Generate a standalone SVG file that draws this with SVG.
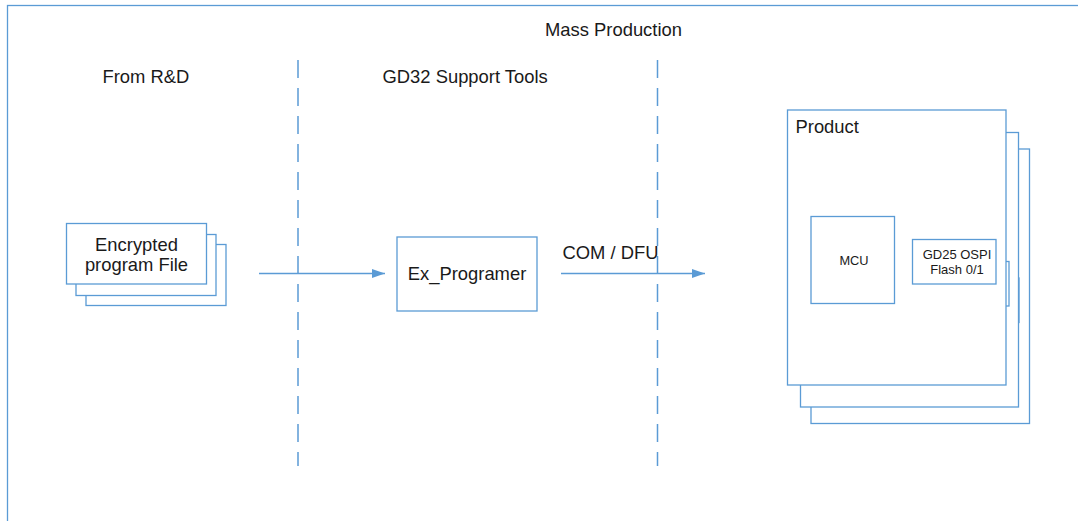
<svg xmlns="http://www.w3.org/2000/svg" width="1078" height="521" viewBox="0 0 1078 521">
  <style>
    .box { fill: #ffffff; stroke: #5b9bd5; stroke-width: 1.3; }
    .frame { fill: none; stroke: #5b9bd5; stroke-width: 1.3; }
    .lane { stroke: #5b9bd5; stroke-width: 1.5; stroke-dasharray: 18 10; fill: none; }
    .conn { stroke: #5b9bd5; stroke-width: 1.3; fill: none; }
    text { font-family: "Liberation Sans", Arial, sans-serif; fill: #1a1a1a; }
    .t18 { font-size: 18.4px; }
    .t13 { font-size: 13px; }
    .mid { text-anchor: middle; }
  </style>
  <defs>
    <marker id="arrow" viewBox="0 0 13 9" refX="13" refY="4.5" markerWidth="13" markerHeight="9" markerUnits="userSpaceOnUse" orient="auto">
      <path d="M0,0 L13,4.5 L0,9 Z" fill="#5b9bd5"/>
    </marker>
  </defs>

  <rect width="1078" height="521" fill="#ffffff"/>

  <!-- page frame, running past the right and bottom edges -->
  <rect class="frame" x="7.5" y="5.5" width="1100" height="560"/>

  <!-- lane titles -->
  <text class="t18" x="545" y="36">Mass Production</text>
  <text class="t18" x="102.5" y="83">From R&amp;D</text>
  <text class="t18" x="382.5" y="82.5">GD32 Support Tools</text>

  <!-- lane separators -->
  <g id="lanes">
    <line class="lane" x1="298" y1="60" x2="298" y2="466"/>
    <line class="lane" x1="657.5" y1="60" x2="657.5" y2="466"/>
  </g>

  <!-- stacked document: encrypted program file -->
  <g id="program-file">
    <rect class="box" x="86" y="244.5" width="140" height="61"/>
    <rect class="box" x="76" y="234.5" width="140" height="61"/>
    <rect class="box" x="66.5" y="223.5" width="140" height="60.5"/>
    <text class="t18 mid" x="136.5" y="250.5">Encrypted</text>
    <text class="t18 mid" x="136.5" y="270.5">program File</text>
  </g>

  <!-- programmer tool -->
  <g id="ex-programer">
    <rect class="box" x="397" y="237" width="140" height="74"/>
    <text class="t18 mid" x="467" y="280">Ex_Programer</text>
  </g>

  <!-- stacked product boards -->
  <g id="product">
    <rect class="box" x="811" y="149" width="218.5" height="274.5"/>
    <rect class="box" x="935.5" y="278" width="83.5" height="44.5"/>
    <rect class="box" x="800.5" y="132.5" width="218" height="274.5"/>
    <rect class="box" x="925.5" y="261.5" width="83.5" height="44.5"/>
    <rect class="box" x="787.5" y="110" width="218.5" height="275"/>
    <text class="t18" x="795.5" y="132.5">Product</text>
  </g>

  <g id="mcu">
    <rect class="box" x="811" y="216.5" width="83.5" height="87"/>
    <text class="mid" x="854" y="265" font-size="12.8px">MCU</text>
  </g>

  <g id="flash">
    <rect class="box" x="912.5" y="239.5" width="83.5" height="44.5"/>
    <text class="t13 mid" x="957" y="258.5">GD25 OSPI</text>
    <text class="t13 mid" x="957" y="274">Flash 0/1</text>
  </g>

  <!-- connectors -->
  <g id="connectors">
    <line class="conn" x1="259" y1="273.5" x2="385" y2="273.5" marker-end="url(#arrow)"/>
    <line class="conn" x1="561" y1="273.5" x2="705" y2="273.5" marker-end="url(#arrow)"/>
    <text class="t18" x="562.5" y="258.5">COM / DFU</text>
  </g>
</svg>
